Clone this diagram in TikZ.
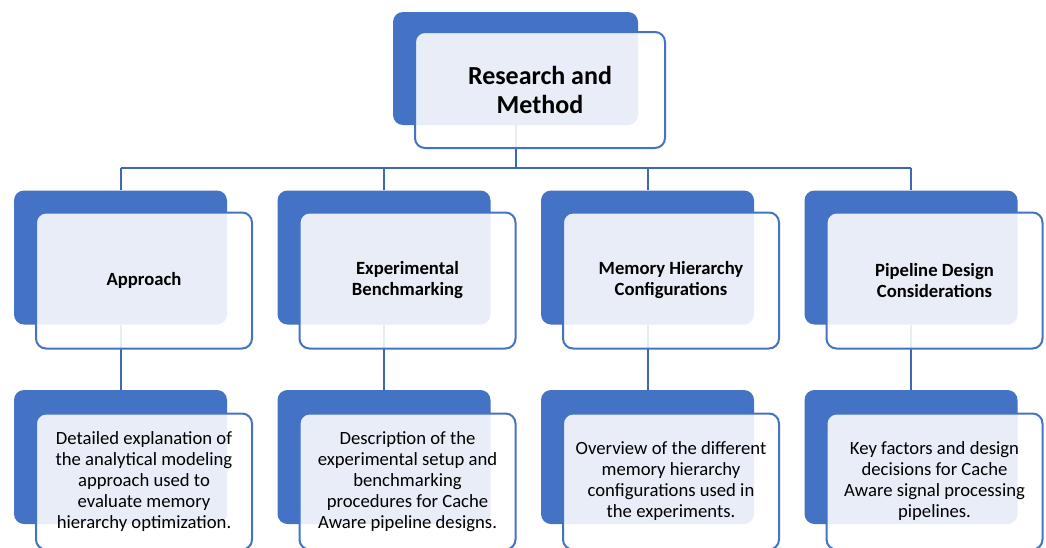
\documentclass[tikz,border=0pt]{standalone}
\usepackage{fontspec}
\setmainfont{Carlito}
\usepackage{tikz}
\usetikzlibrary{positioning,backgrounds}
\definecolor{smblue}{HTML}{4472C4}
\definecolor{linkblue}{HTML}{3F68B4}

\begin{document}
\begin{tikzpicture}[x=0.75pt,y=-0.75pt,
    back/.style={rectangle, rounded corners=7.5pt, fill=smblue, inner sep=0pt,
      minimum width=159.75pt, minimum height=100.5pt},
    front/.style={rectangle, rounded corners=7.5pt, draw=smblue, line width=1.5pt,
      fill=white, fill opacity=0.88, text opacity=1, inner sep=0pt,
      minimum width=162pt, minimum height=102pt, align=center,
      font=\fontsize{14}{15.75}\selectfont},
    head/.style={front, font=\bfseries\fontsize{14}{15.75}\selectfont},
    link/.style={draw=linkblue, line width=1.5pt}]
        \useasboundingbox (0,0) rectangle (1046,547);
        %Top
        \node[back, minimum width=183.75pt, minimum height=84.75pt] (rmback) at (515.5,68.5) {};
        \node[head, minimum width=187.5pt, minimum height=87pt,
          font=\bfseries\fontsize{19.5}{21.75}\selectfont] (rm) at (540,90) {Research and\\Method};
        %Second row
        \node[back] (apprback) at (120.5,257.5) {};
        \node[back] (benchback) at (384,257.5) {};
        \node[back] (memback) at (647.5,257.5) {};
        \node[back] (pipeback) at (911,257.5) {};
        \node[head] (appr) at (144,280.5) {Approach};
        \node[head] (bench) at (407.5,280.5) {Experimental\\Benchmarking};
        \node[head] (mem) at (671,280.5) {Memory Hierarchy\\Configurations};
        \node[head] (pipe) at (934.5,280.5) {Pipeline Design\\Considerations};
        %Third row
        \node[back] (apprtxtback) at (120.5,457) {};
        \node[back] (benchtxtback) at (384,457) {};
        \node[back] (memtxtback) at (647.5,457) {};
        \node[back] (pipetxtback) at (911,457) {};
        \node[front] (apprtxt) at (144,481.5) {Detailed explanation of\\the analytical modeling\\approach used to\\evaluate memory\\hierarchy optimization.};
        \node[front] (benchtxt) at (407.5,481.5) {Description of the\\experimental setup and\\benchmarking\\procedures for Cache\\Aware pipeline designs.};
        \node[front] (memtxt) at (671,481.5) {Overview of the different\\memory hierarchy\\configurations used in\\the experiments.};
        \node[front] (pipetxt) at (934.5,481.5) {Key factors and design\\decisions for Cache\\Aware signal processing\\pipelines.};
        %Links
        \coordinate (busm) at (515.5,168);
        \begin{scope}[on background layer]
          \draw[link] (rmback.south) -- (busm);
          \draw[link] (apprback.north |- busm) -- (pipeback.north |- busm);
          \draw[link] (apprback.north |- busm) -- (apprback.north);
          \draw[link] (benchback.north |- busm) -- (benchback.north);
          \draw[link] (memback.north |- busm) -- (memback.north);
          \draw[link] (pipeback.north |- busm) -- (pipeback.north);
          \draw[link] (apprback.south) -- (apprtxtback.north);
          \draw[link] (benchback.south) -- (benchtxtback.north);
          \draw[link] (memback.south) -- (memtxtback.north);
          \draw[link] (pipeback.south) -- (pipetxtback.north);
        \end{scope}
\end{tikzpicture}
\end{document}
